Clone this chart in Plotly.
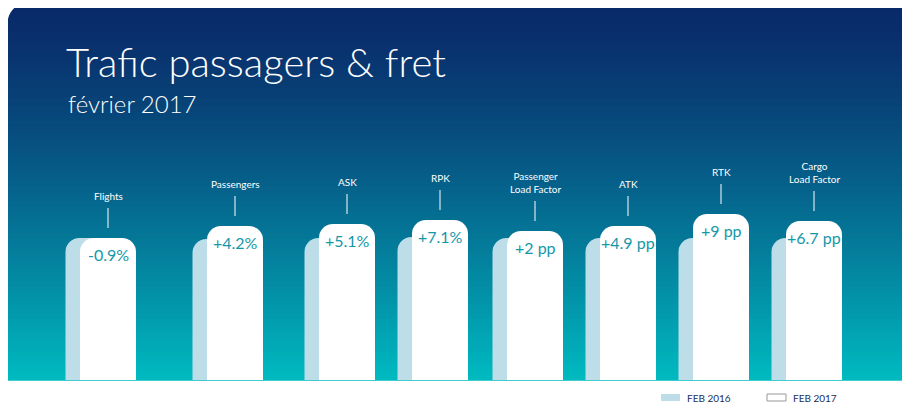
import plotly.graph_objects as go

categories = ["Flights", "Passengers", "ASK", "RPK", "Passenger<br>Load Factor", "ATK", "RTK", "Cargo<br>Load Factor"]
changes = ["-0.9%", "+4.2%", "+5.1%", "+7.1%", "+2 pp", "+4.9 pp", "+9 pp", "+6.7 pp"]
x_pos = [108, 235, 347, 440, 535, 628, 721, 814]
feb2016 = [142, 141, 142, 143, 142, 142, 142, 142]
feb2017 = [142, 154, 156, 160, 149, 154, 166, 159]

W, H = 910, 411
BASE = 380  # pixel row of bar baseline
OFF = 8     # page body margin
fig = go.Figure()

# gradient background: bands
top, bot = (10, 42, 105), (0, 186, 192)
n = 80
y0p, y1p = 3, BASE
shapes = []
for i in range(n):
    t = i / (n - 1)
    t2 = t ** 1.3
    c = tuple(int(top[k] + (bot[k] - top[k]) * t2) for k in range(3))
    ya = y0p + (y1p - y0p) * i / n
    yb = y0p + (y1p - y0p) * (i + 1) / n + 0.8
    shapes.append(dict(type="rect", xref="x", yref="y", x0=0, x1=W,
                       y0=BASE - ya, y1=BASE - yb, line_width=0,
                       fillcolor="rgb(%d,%d,%d)" % c, layer="below"))
# white corner masks
r = 26
def yy(p):
    return BASE - p
shapes.append(dict(type="path", xref="x", yref="y", layer="below", line_width=0, fillcolor="white",
                   path=f"M {OFF-1} {yy(2)} L {OFF+r} {yy(2)} Q {OFF-1} {yy(2)} {OFF-1} {yy(2+r)} Z"))
shapes.append(dict(type="path", xref="x", yref="y", layer="below", line_width=0, fillcolor="white",
                   path=f"M {W+1} {yy(2)} L {W-r} {yy(2)} Q {W+1} {yy(2)} {W+1} {yy(2+r)} Z"))

# bars
fig.add_bar(x=[x - 15 for x in x_pos], y=feb2016, width=55, marker_color="#bddde9",
            marker_line_width=0, showlegend=False)
fig.add_bar(x=x_pos, y=feb2017, width=56, marker_color="white", marker_line_width=0,
            showlegend=False)

ann = []
for x, h, lab, ch in zip(x_pos, feb2017, categories, changes):
    ann.append(dict(x=x, y=h - 16, text=ch, showarrow=False, xref="x", yref="y",
                    font=dict(size=16, color="#1497a8", family="Lato")))
    shapes.append(dict(type="line", xref="x", yref="y", x0=x, x1=x, y0=h + 10, y1=h + 30,
                       line=dict(color="white", width=1)))
    ann.append(dict(x=x, y=h + 34, text=lab, showarrow=False, xref="x", yref="y",
                    yanchor="bottom", font=dict(size=10, color="white", family="Lato")))

ann.append(dict(x=64, y=BASE - 62, text="Trafic passagers &amp; fret", showarrow=False, xanchor="left",
                font=dict(size=40, color="white", family="Lato Light, Lato")))
ann.append(dict(x=66, y=BASE - 103, text="février 2017", showarrow=False, xanchor="left",
                font=dict(size=24, color="white", family="Lato Light, Lato")))

# legend
shapes.append(dict(type="rect", xref="x", yref="y", x0=661, x1=680, y0=BASE - 394, y1=BASE - 401,
                   fillcolor="#bddde9", line_width=0))
shapes.append(dict(type="rect", xref="x", yref="y", x0=767, x1=786, y0=BASE - 394, y1=BASE - 401,
                   fillcolor="white", line=dict(color="#999999", width=1)))
ann.append(dict(x=685, y=BASE - 397.5, text="FEB 2016", showarrow=False, xanchor="left",
                font=dict(size=10, color="#1a2f5a", family="Lato")))
ann.append(dict(x=791, y=BASE - 397.5, text="FEB 2017", showarrow=False, xanchor="left",
                font=dict(size=10, color="#1a2f5a", family="Lato")))

fig.update_layout(width=W, height=H, margin=dict(l=0, r=0, t=0, b=0),
                  paper_bgcolor="white", plot_bgcolor="white", barmode="overlay",
                  barcornerradius=14, shapes=shapes, annotations=ann,
                  xaxis=dict(range=[OFF, W + OFF], visible=False, fixedrange=True),
                  yaxis=dict(range=[BASE - H - OFF, BASE - OFF], visible=False, fixedrange=True))
fig.write_html("out.html")
